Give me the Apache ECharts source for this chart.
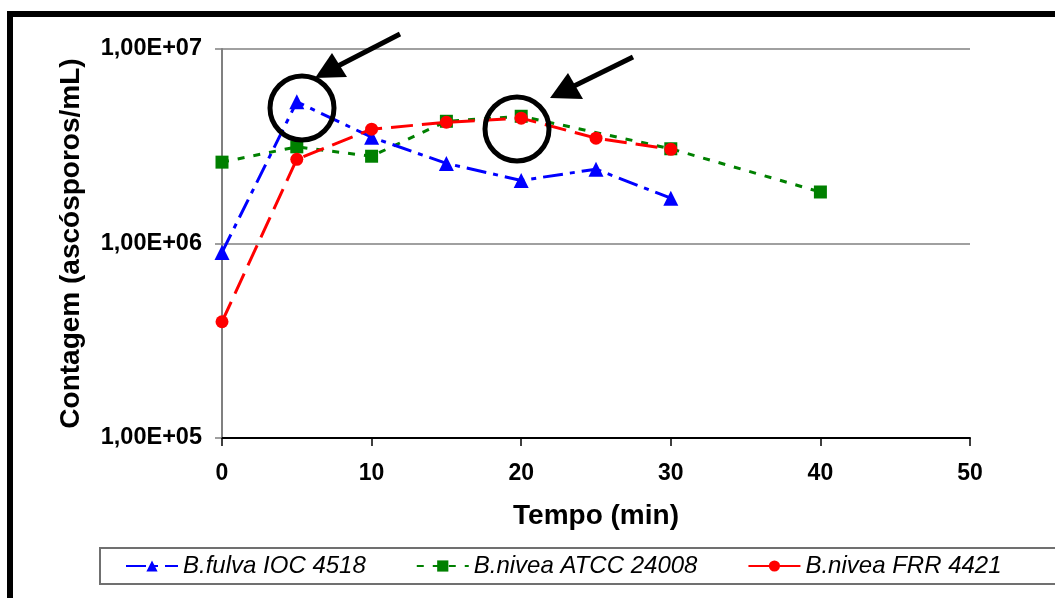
<!DOCTYPE html>
<html>
<head>
<meta charset="utf-8">
<script src="https://cdn.jsdelivr.net/npm/echarts@6/dist/echarts.min.js"></script>
<style>
  html, body { margin: 0; padding: 0; background: #fff; }
  #container { width: 1055px; height: 598px; }
</style>
</head>
<body>
<div id="container"></div>
<script>
// tempo (min)
var fulvaTimes = [0, 5, 10, 15, 20, 25, 30];
var fulvaValues = [9.0e5, 5.35e6, 3.52e6, 2.58e6, 2.11e6, 2.41e6, 1.71e6];

var atccTimes = [0, 5, 10, 15, 20, 30, 40];
var atccValues = [2.62e6, 3.14e6, 2.81e6, 4.25e6, 4.51e6, 3.07e6, 1.84e6];

var frrTimes = [0, 5, 10, 15, 20, 25, 30];
var frrValues = [3.96e5, 2.71e6, 3.87e6, 4.2e6, 4.41e6, 3.48e6, 3.05e6];

var seriesNames = ['B.fulva IOC 4518', 'B.nivea ATCC 24008', 'B.nivea FRR 4421'];
var xTicks = [0, 10, 20, 30, 40, 50];
var yTicks = [1e5, 1e6, 1e7];

function pares(xs, ys) {
    var out = [];
    for (var i = 0; i < xs.length; i++) {
        out.push([xs[i], ys[i]]);
    }
    return out;
}

function formatoE(v) {
    var exp = Math.round(Math.log10(v));
    var mant = v / Math.pow(10, exp);
    var s = exp < 10 ? '0' + exp : '' + exp;
    return mant.toFixed(2).replace('.', ',') + 'E+' + s;
}

var myChart = echarts.init(document.getElementById('container'));
var option = {
    backgroundColor: '#ffffff',
    animation: false,
    grid: {
        left: 222,
        right: 85,
        top: 49,
        bottom: 160
    },
    legend: {
        left: 125,
        top: 554,
        padding: 0,
        itemWidth: 52,
        itemHeight: 14,
        itemGap: 50,
        textStyle: {
            fontFamily: 'Liberation Sans, Arial, sans-serif',
            fontStyle: 'italic',
            fontSize: 24,
            color: '#000'
        },
        data: seriesNames
    },
    xAxis: {
        type: 'value',
        min: xTicks[0],
        max: xTicks[xTicks.length - 1],
        interval: 10,
        name: 'Tempo (min)',
        nameLocation: 'middle',
        nameGap: 64,
        nameTextStyle: {
            fontFamily: 'Liberation Sans, Arial, sans-serif',
            fontWeight: 'bold',
            fontSize: 28,
            color: '#000'
        },
        axisLine: { lineStyle: { color: '#000', width: 2 } },
        axisTick: { inside: false, length: 8, lineStyle: { color: '#000', width: 1.5 } },
        axisLabel: {
            margin: 24,
            fontFamily: 'Liberation Sans, Arial, sans-serif',
            fontWeight: 'bold',
            fontSize: 23,
            color: '#000'
        },
        splitLine: { show: false }
    },
    yAxis: {
        type: 'log',
        logBase: 10,
        min: yTicks[0],
        max: yTicks[yTicks.length - 1],
        name: 'Contagem (ascósporos/mL)',
        nameLocation: 'middle',
        nameGap: 137,
        nameTextStyle: {
            fontFamily: 'Liberation Sans, Arial, sans-serif',
            fontWeight: 'bold',
            fontSize: 28,
            color: '#000'
        },
        axisLine: { show: true, lineStyle: { color: '#808080', width: 2 } },
        axisTick: { show: true, length: 7, lineStyle: { color: '#808080', width: 1.5 } },
        axisLabel: {
            margin: 20,
            formatter: formatoE,
            fontFamily: 'Liberation Sans, Arial, sans-serif',
            fontWeight: 'bold',
            fontSize: 23.5,
            color: '#000'
        },
        splitLine: { show: true, lineStyle: { color: '#808080', width: 1.5 } }
    },
    series: [
        {
            name: seriesNames[0],
            type: 'line',
            data: pares(fulvaTimes, fulvaValues),
            symbol: 'triangle',
            symbolSize: 15,
            itemStyle: { color: '#0000ff' },
            lineStyle: { color: '#0000ff', width: 3, type: [20, 7, 5, 7] },
            z: 3
        },
        {
            name: seriesNames[1],
            type: 'line',
            data: pares(atccTimes, atccValues),
            symbol: 'rect',
            symbolSize: 13,
            itemStyle: { color: '#008000' },
            lineStyle: { color: '#008000', width: 3, type: [7, 9] },
            z: 2
        },
        {
            name: seriesNames[2],
            type: 'line',
            data: pares(frrTimes, frrValues),
            symbol: 'circle',
            symbolSize: 13,
            itemStyle: { color: '#ff0000' },
            lineStyle: { color: '#ff0000', width: 3, type: [22, 9] },
            z: 4
        }
    ],
    graphic: [
        // moldura preta
        {
            type: 'rect',
            shape: { x: 10, y: 14, width: 1100, height: 700 },
            style: { fill: null, stroke: '#000', lineWidth: 6 },
            silent: true
        },
        // caixa da legenda
        {
            type: 'rect',
            shape: { x: 100, y: 548, width: 1000, height: 36 },
            style: { fill: null, stroke: '#707070', lineWidth: 2 },
            silent: true
        },
        // círculos e setas
        {
            type: 'circle',
            shape: { cx: 302, cy: 108, r: 32 },
            style: { fill: null, stroke: '#000', lineWidth: 5 },
            z: 10
        },
        {
            type: 'circle',
            shape: { cx: 517, cy: 129, r: 32 },
            style: { fill: null, stroke: '#000', lineWidth: 5 },
            z: 10
        },
        {
            type: 'line',
            shape: { x1: 400, y1: 34, x2: 336, y2: 67 },
            style: { stroke: '#000', lineWidth: 5 },
            z: 10
        },
        {
            type: 'polygon',
            shape: { points: [[315, 78], [332, 53], [347, 77]] },
            style: { fill: '#000' },
            z: 10
        },
        {
            type: 'line',
            shape: { x1: 633, y1: 57, x2: 570, y2: 88 },
            style: { stroke: '#000', lineWidth: 5 },
            z: 10
        },
        {
            type: 'polygon',
            shape: { points: [[550, 98], [568, 73], [583, 99]] },
            style: { fill: '#000' },
            z: 10
        }
    ]
};
myChart.setOption(option);
</script>
</body>
</html>
